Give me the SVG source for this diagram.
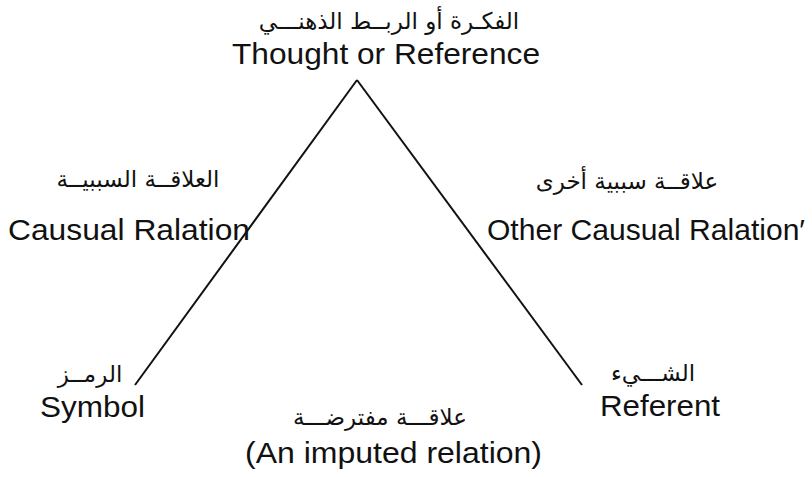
<svg xmlns="http://www.w3.org/2000/svg" width="812" height="477" viewBox="0 0 812 477">
<style>
.en{font-family:"Liberation Sans",Arial,sans-serif;font-size:29px;fill:#111}
.ar{font-family:"DejaVu Sans","Noto Sans",sans-serif;font-size:23px;fill:#111;direction:rtl;unicode-bidi:embed;text-anchor:middle}
.ln{stroke:#111;stroke-width:2;fill:none}
</style>
<rect width="812" height="477" fill="#fff"/>
<g id="connectors">
<line class="ln" x1="135" y1="385" x2="357" y2="80"/>
<line class="ln" x1="357" y1="80" x2="582" y2="385"/>
</g>
<g id="thought">
<text class="ar" x="389" y="29">الفكـرة أو الربــط الذهنـــي</text>
<text class="en" x="232" y="64" textLength="308" lengthAdjust="spacingAndGlyphs">Thought or Reference</text>
</g>
<g id="causal">
<text class="ar" x="138" y="187">العلاقــة السببيــة</text>
<text class="en" x="8" y="240" textLength="242" lengthAdjust="spacingAndGlyphs">Causual Ralation</text>
</g>
<g id="other-causal">
<text class="ar" x="627" y="189">علاقــة سببية أخرى</text>
<text class="en" x="487" y="240" textLength="318" lengthAdjust="spacingAndGlyphs">Other Causual Ralation′</text>
</g>
<g id="symbol">
<text class="ar" x="90" y="382">الرمــز</text>
<text class="en" x="40" y="417" textLength="105" lengthAdjust="spacingAndGlyphs">Symbol</text>
</g>
<g id="imputed">
<text class="ar" x="380" y="425">علاقـــة مفترضـــة</text>
<text class="en" x="245" y="463" textLength="297" lengthAdjust="spacingAndGlyphs">(An imputed relation)</text>
</g>
<g id="referent">
<text class="ar" x="653" y="381">الشـــيء</text>
<text class="en" x="600" y="416" textLength="120" lengthAdjust="spacingAndGlyphs">Referent</text>
</g>
</svg>
